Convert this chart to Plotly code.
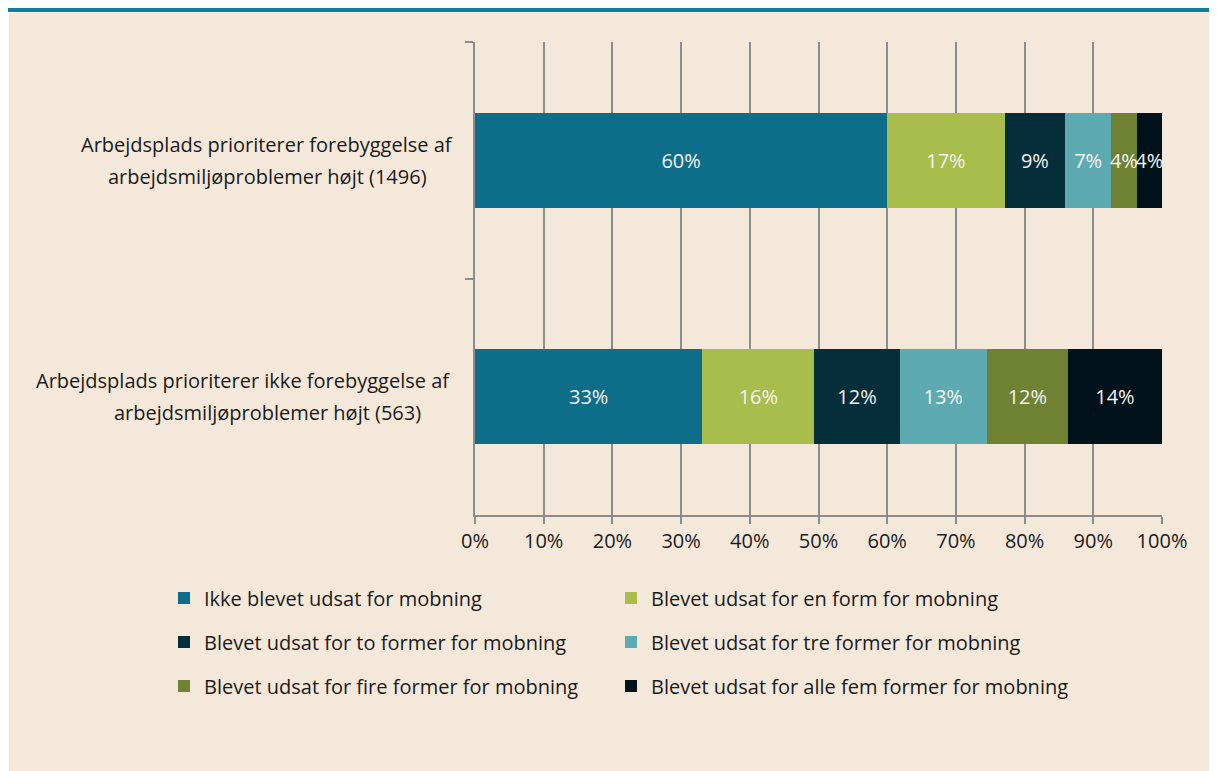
import plotly.graph_objects as go

categories = [
    "Arbejdsplads prioriterer forebyggelse af<br>arbejdsmiljøproblemer højt (1496)",
    "Arbejdsplads prioriterer ikke forebyggelse af<br>arbejdsmiljøproblemer højt (563)",
]
series_names = [
    "Ikke blevet udsat for mobning",
    "Blevet udsat for en form for mobning",
    "Blevet udsat for to former for mobning",
    "Blevet udsat for tre former for mobning",
    "Blevet udsat for fire former for mobning",
    "Blevet udsat for alle fem former for mobning",
]
# percentages per series: [top category, bottom category]
ikke = [60.0, 33.1]
en_form = [17.1, 16.3]
to_former = [8.8, 12.4]
tre_former = [6.7, 12.7]
fire_former = [3.7, 11.8]
alle_fem = [3.7, 13.7]
series_values = [ikke, en_form, to_former, tre_former, fire_former, alle_fem]
colors = ["#0E6E89", "#A8BD4B", "#062D3A", "#5DABB0", "#6F8233", "#01121A"]
x_ticks = [0, 10, 20, 30, 40, 50, 60, 70, 80, 90, 100]
x_tick_labels = ["0%", "10%", "20%", "30%", "40%", "50%", "60%", "70%", "80%", "90%", "100%"]

FONT = "Open Sans"
FS = 20
OFF = 8  # page offset of the figure (body margin)
W, H = 1217 - OFF, 771 - OFF
L, R, T, B = 475 - OFF, 55, 42 - OFF, 256
PW = W - L - R
PH = H - T - B

def px2x(px):
    return (px - L) / PW

def py2y(py):
    return (H - B - py) / PH

# legend layout: two columns, three rows (page pixel positions)
col_x = [164 - OFF, 611 - OFF]
row_y = [598 - OFF, 642 - OFF, 686 - OFF]

fig = go.Figure()
legend_layout = {}
for k, (name, vals, col) in enumerate(zip(series_names, series_values, colors)):
    lid = "legend" if k == 0 else f"legend{k + 1}"
    fig.add_trace(go.Bar(
        y=categories, x=vals, name=name, orientation="h",
        marker=dict(color=col, line=dict(width=0)),
        text=vals, texttemplate="%{x:.0f}%", textposition="inside",
        insidetextanchor="middle", constraintext="none", textangle=0,
        textfont=dict(family=FONT, size=FS, color="#F4F4F4"),
        legend=lid, hoverinfo="skip",
    ))
    legend_layout[lid] = dict(
        x=px2x(col_x[k % 2]), y=py2y(row_y[k // 2]),
        xanchor="left", yanchor="middle", orientation="h",
        bgcolor="rgba(0,0,0,0)",
        font=dict(family=FONT, size=FS, color="#1A1A1A"),
    )

grid = "#8C8C8C"
shapes = [
    dict(type="rect", xref="paper", yref="paper",
         x0=px2x(1), x1=px2x(W + 5), y0=py2y(H + 5), y1=py2y(5),
         fillcolor="#F4E8DB", line=dict(width=0), layer="below"),
    dict(type="rect", xref="paper", yref="paper",
         x0=px2x(0), x1=px2x(W + 5), y0=py2y(4), y1=py2y(-2),
         fillcolor="#107E9B", line=dict(width=0), layer="below"),
]

# category label placement: centred at 267px, long lines overflow to the left of 453px
label_anchor = [["center", "center"], ["right", "center"]]
annotations = []
for cat, anchors in zip(categories, label_anchor):
    lines = cat.split("<br>")
    for i, (line, anc) in enumerate(zip(lines, anchors)):
        xpx = 267 if anc == "center" else 452
        annotations.append(dict(
            xref="paper", yref="y", x=px2x(xpx - OFF), y=cat, xanchor=anc,
            yanchor="middle", yshift=16 - 32 * i, text=line, showarrow=False,
            font=dict(family=FONT, size=FS, color="#1A1A1A"),
        ))

fig.update_layout(
    width=W, height=H,
    margin=dict(l=L, r=R, t=T, b=B, pad=0),
    paper_bgcolor="white", plot_bgcolor="rgba(0,0,0,0)",
    barmode="stack", bargap=0.6,
    font=dict(family=FONT, size=FS, color="#1A1A1A"),
    showlegend=True,
    shapes=shapes, annotations=annotations,
    xaxis=dict(range=[0, 100], tickvals=x_ticks, ticktext=x_tick_labels,
               showgrid=True, gridcolor=grid, gridwidth=1.5,
               showline=True, linecolor=grid, linewidth=1.5,
               ticks="outside", ticklen=7, tickcolor=grid, tickwidth=1.5,
               zeroline=False, tickfont=dict(family=FONT, size=FS, color="#1A1A1A")),
    yaxis=dict(autorange="reversed", tickson="boundaries", ticks="outside",
               ticklen=8, tickcolor=grid, tickwidth=1.5, showgrid=False,
               showline=True, linecolor=grid, linewidth=1.5,
               showticklabels=False, zeroline=False),
    **legend_layout,
)

fig.write_html("out.html")
